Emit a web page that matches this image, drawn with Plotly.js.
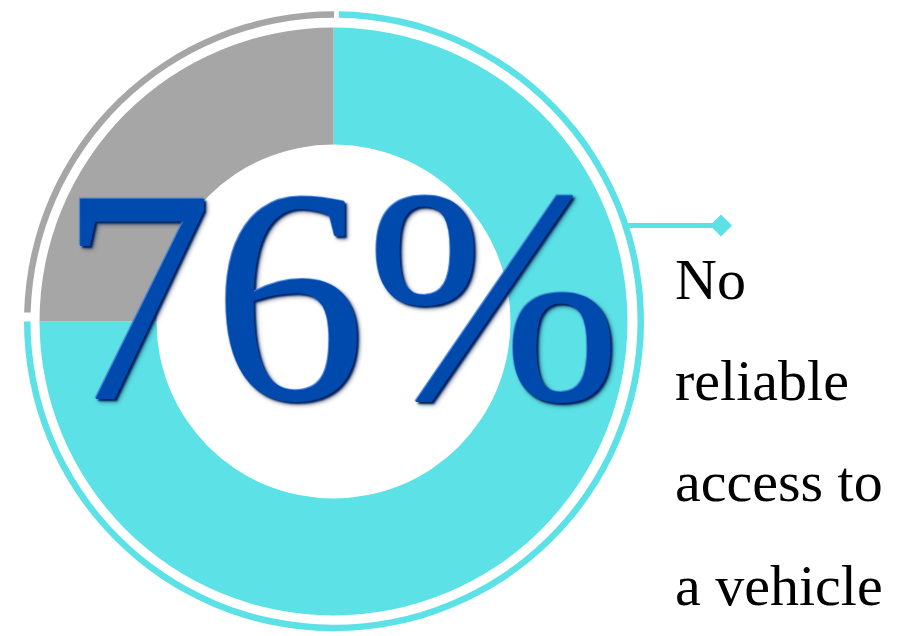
<!DOCTYPE html>
<html>
<head>
<meta charset="utf-8">
<script src="https://cdn.plot.ly/plotly-3.0.1.min.js"></script>
<style>html,body{margin:0;padding:0;background:#fff;}#chart{width:902px;height:636px;}</style>
</head>
<body>
<div id="chart"></div>
<script>
// ---- data ----
const categories = ['No reliable access to a vehicle', 'Other'];
const values = [75, 25];
const sliceColors = ['#5CE1E6', '#A6A6A6'];
const bigLabel = '76%';
const labelLines = ['No', 'reliable', 'access to', 'a vehicle'];
// outer decorative ring: gap, cyan arc, gap, gray arc
const ringValues = [0.25, 74.75, 0.45, 24.55];
const ringColors = ['#FFFFFF', '#5CE1E6', '#FFFFFF', '#A6A6A6'];
// leader line (pixel space of the hidden axes)
const leaderX = [628, 721];
const leaderY = [225.5, 225.5];

const W = 902, H = 636;
function dom(cx, cy, r) {
  return {
    x: [(cx - r) / W, (cx + r) / W],
    y: [(H - cy - r) / H, (H - cy + r) / H]
  };
}

const traces = [
  {
    type: 'pie', values: ringValues, labels: ['g1', 'c', 'g2', 'g'],
    marker: {colors: ringColors, line: {width: 0}},
    hole: 303.5 / 310, sort: false, direction: 'clockwise', rotation: 0,
    textinfo: 'none', hoverinfo: 'none', showlegend: false,
    domain: dom(334, 321.2, 310)
  },
  {
    type: 'pie', values: values, labels: categories,
    marker: {colors: sliceColors, line: {width: 0}},
    hole: 177 / 294, sort: false, direction: 'clockwise', rotation: 0,
    textinfo: 'none', hoverinfo: 'none', showlegend: false,
    domain: dom(333.5, 321.5, 294)
  },
  {
    type: 'scatter', mode: 'lines', x: leaderX, y: leaderY,
    line: {color: '#5CE1E6', width: 5}, hoverinfo: 'skip', showlegend: false
  },
  {
    type: 'scatter', mode: 'markers', x: [leaderX[1]], y: [leaderY[1]],
    marker: {symbol: 'diamond', size: 17, color: '#5CE1E6'},
    hoverinfo: 'skip', showlegend: false
  }
];

const serif = 'Liberation Serif, Times New Roman, serif';
const annotations = [];
annotations.push({
  xref: 'x', yref: 'y', x: 340, y: 295, xanchor: 'center', yanchor: 'middle',
  text: bigLabel, showarrow: false,
  font: {family: serif, size: 306, color: '#004AAD',
         shadow: '-1px -1px 1px #3C7BD6, 2px 2px 2px #00205E, 3px 3px 4px rgba(0,20,60,0.5)'}
});
const baselines = [299, 400, 501, 605];
labelLines.forEach((t, i) => {
  annotations.push({
    xref: 'x', yref: 'y', x: 673, y: baselines[i] - 20, xanchor: 'left', yanchor: 'middle',
    text: t, showarrow: false,
    font: {family: serif, size: 58, color: '#000000'}
  });
});

const layout = {
  width: W, height: H,
  margin: {l: 0, r: 0, t: 0, b: 0, pad: 0},
  paper_bgcolor: '#FFFFFF', plot_bgcolor: 'rgba(0,0,0,0)',
  showlegend: false,
  xaxis: {range: [0, W], visible: false, fixedrange: true, domain: [0, 1]},
  yaxis: {range: [H, 0], visible: false, fixedrange: true, domain: [0, 1]},
  annotations: annotations
};

Plotly.newPlot('chart', traces, layout, {displayModeBar: false, staticPlot: true});
</script>
</body>
</html>
